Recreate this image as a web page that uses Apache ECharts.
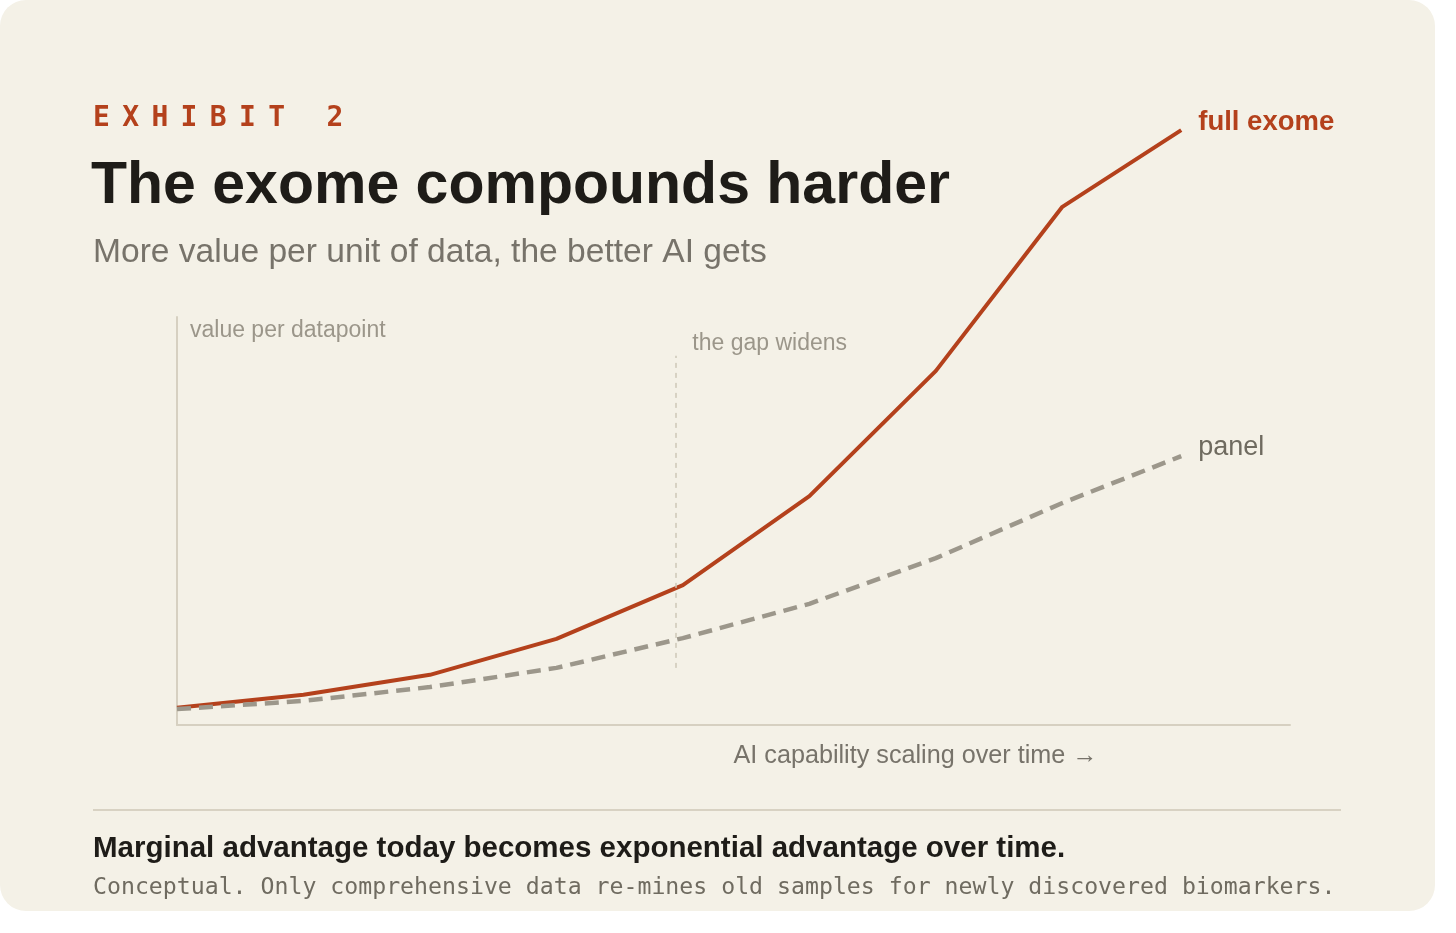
<!DOCTYPE html>
<html>
<head>
<meta charset="utf-8">
<script src="https://cdn.jsdelivr.net/npm/echarts@6/dist/echarts.min.js"></script>
<style>
  html, body { margin: 0; padding: 0; background: #ffffff; }
  #chart { width: 1456px; height: 933px; }
</style>
</head>
<body>
<div id="chart"></div>
<script>
// ---- data ----
const exhibitLabel = 'EXHIBIT 2';
const titleText = 'The exome compounds harder';
const subtitleText = 'More value per unit of data, the better AI gets';
const footNote = 'Marginal advantage today becomes exponential advantage over time.';
const footCaption = 'Conceptual. Only comprehensive data re\u2011mines old samples for newly discovered biomarkers.';
const yAxisTitle = 'value per datapoint';
const xAxisTitle = 'AI capability scaling over time \u2192';
const seriesNames = ['full exome', 'panel'];
const xSteps = [0, 1, 2, 3, 4, 5, 6, 7, 7.94];
const fullExome = [4.2, 7.4, 12.3, 21.1, 34.3, 56.1, 86.8, 127.0, 145.8];
const panelValues = [3.9, 5.9, 9.3, 14.0, 21.3, 29.7, 40.9, 54.4, 65.9];
const gapAt = 3.94;
const gapSpan = [14, 90.5];
const gapLabel = 'the gap widens';

// ---- styles ----
const SANS = '"Liberation Sans", Arial, Helvetica, sans-serif';
const MONO = '"DejaVu Sans Mono", "Liberation Mono", monospace';
const RUST = '#b4411c';
const CARD = '#f4f1e7';

const chart = echarts.init(document.getElementById('chart'));

const exhibitRich = exhibitLabel.split('').map(c => '{a|' + (c === ' ' ? '\u00a0' : c) + '}').join('');

const option = {
  animation: false,
  backgroundColor: 'transparent',
  graphic: [
    { type: 'rect', z: -100, silent: true,
      shape: { x: 0, y: 0, width: 1435, height: 911, r: 26 },
      style: { fill: CARD } },
    { type: 'line', z: -50, silent: true,
      shape: { x1: 93, y1: 810, x2: 1341, y2: 810 },
      style: { stroke: '#d8d2c3', lineWidth: 2 } }
  ],
  title: [
    { left: 93, top: 105, padding: 0, text: exhibitRich,
      textStyle: { rich: { a: { width: 29.2, fontFamily: MONO, fontWeight: 'bold', fontSize: 28, color: RUST } } } },
    { left: 91, top: 157, padding: 0, text: titleText,
      textStyle: { fontFamily: SANS, fontWeight: 'bold', fontSize: 59, color: '#1e1c18' } },
    { left: 93, top: 236, padding: 0, text: subtitleText,
      textStyle: { fontFamily: SANS, fontWeight: 'normal', fontSize: 33.6, color: '#77736a' } },
    { left: 93, top: 834, padding: 0, text: footNote,
      textStyle: { fontFamily: SANS, fontWeight: 'bold', fontSize: 29.5, color: '#1e1c18' } },
    { left: 93, top: 876, padding: 0, text: footCaption,
      textStyle: { fontFamily: MONO, fontWeight: 'normal', fontSize: 23.2, color: '#6f6b60' } }
  ],
  grid: { left: 177, right: 166, top: 317, bottom: 208, containLabel: false },
  xAxis: {
    type: 'value', min: 0, max: 8.8,
    axisLine: { show: true, lineStyle: { color: '#d6d0c1', width: 2 } },
    axisTick: { show: false }, axisLabel: { show: false }, splitLine: { show: false },
    name: xAxisTitle, nameLocation: 'middle', nameGap: 31.5,
    nameTextStyle: { align: 'left', verticalAlign: 'middle', fontFamily: SANS, fontSize: 25.2, color: '#77736a' }
  },
  yAxis: {
    type: 'value', min: 0, max: 100,
    axisLine: { show: true, lineStyle: { color: '#d6d0c1', width: 2 } },
    axisTick: { show: false }, axisLabel: { show: false }, splitLine: { show: false },
    name: yAxisTitle, nameLocation: 'end', nameGap: -14,
    nameTextStyle: { align: 'left', verticalAlign: 'middle', padding: [0, 0, 0, 13], fontFamily: SANS, fontSize: 23, color: '#9b968a' }
  },
  series: [
    {
      name: seriesNames[0], type: 'line', clip: false, symbol: 'none',
      data: xSteps.map((x, i) => [x, fullExome[i]]),
      lineStyle: { color: RUST, width: 4 },
      endLabel: { show: true, formatter: seriesNames[0], distance: 17, offset: [0, -7.5],
        color: RUST, fontFamily: SANS, fontWeight: 'bold', fontSize: 27.5 }
    },
    {
      name: seriesNames[1], type: 'line', clip: false, symbol: 'none',
      data: xSteps.map((x, i) => [x, panelValues[i]]),
      lineStyle: { color: '#9c978b', width: 4.5, type: [14, 8] },
      endLabel: { show: true, formatter: seriesNames[1], distance: 17, offset: [0, -8.5],
        color: '#6f6b60', fontFamily: SANS, fontWeight: 'normal', fontSize: 27 },
      markLine: {
        silent: true, symbol: 'none', animation: false,
        label: { show: false },
        lineStyle: { color: '#cdc7b8', width: 1.5, type: [5, 5] },
        data: [[{ coord: [gapAt, gapSpan[0]] }, { coord: [gapAt, gapSpan[1]] }]]
      },
      markPoint: {
        silent: true, symbol: 'circle', symbolSize: 0,
        data: [{ coord: [gapAt, 90], value: gapLabel }],
        label: { show: true, position: 'right', distance: 17, offset: [0, -14], formatter: gapLabel,
          fontFamily: SANS, fontSize: 23, color: '#9b968a' }
      }
    }
  ]
};

chart.setOption(option);
</script>
</body>
</html>
